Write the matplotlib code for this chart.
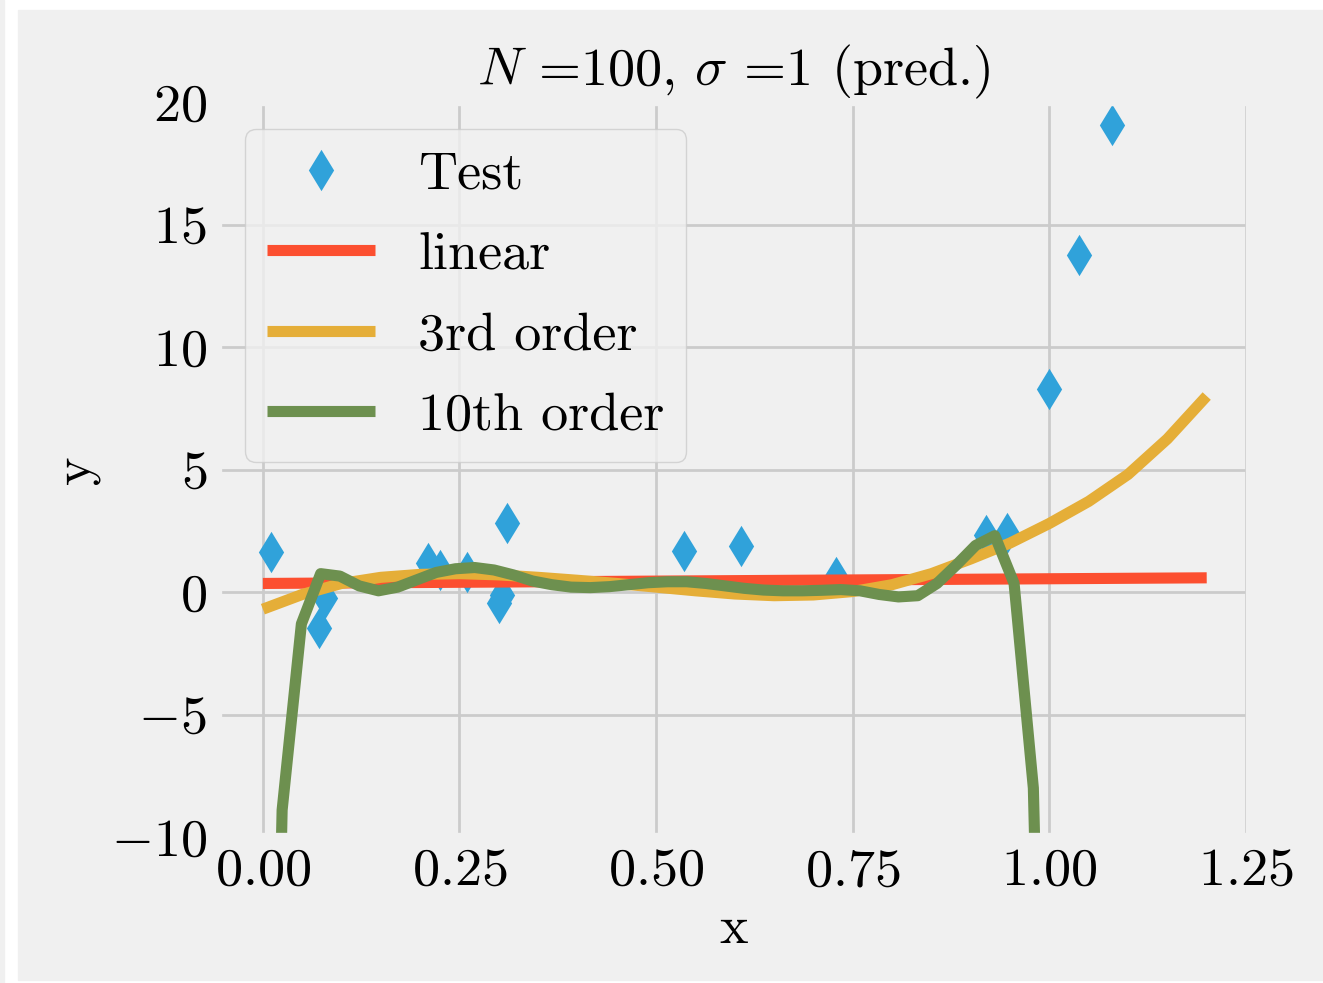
import numpy as np
import matplotlib
matplotlib.use("Agg")
import matplotlib.pyplot as plt
from matplotlib.patches import Rectangle

# test points
test_x = [0.010, 0.072, 0.079, 0.210, 0.225, 0.260, 0.300, 0.304, 0.311,
          0.535, 0.608, 0.729, 0.920, 0.946, 1.000, 1.038, 1.080]
test_y = [1.64, -1.47, -0.25, 1.20, 0.90, 0.83, -0.45, -0.12, 2.80,
          1.67, 1.89, 0.62, 2.33, 2.40, 8.30, 13.75, 19.05]

# linear fit
lin_x = [0.0, 1.2]
lin_y = [0.35, 0.58]

# 3rd order fit
cub_x = [0.00, 0.05, 0.10, 0.15, 0.20, 0.25, 0.30, 0.35, 0.40, 0.45, 0.50,
         0.55, 0.60, 0.65, 0.70, 0.75, 0.80, 0.85, 0.90, 0.95, 1.00, 1.05,
         1.10, 1.15, 1.20]
cub_y = [-0.70, -0.10, 0.35, 0.60, 0.72, 0.75, 0.70, 0.60, 0.48, 0.35, 0.20,
         0.05, -0.08, -0.15, -0.12, 0.02, 0.30, 0.75, 1.35, 2.00, 2.80, 3.70,
         4.80, 6.25, 8.00]

# 10th order fit, sampled on a 50-point grid over [0, 1.2]
grid_x = np.linspace(0, 1.2, 50)
ten_y = [-45.0, -8.9, -1.3, 0.75, 0.65, 0.25, 0.05, 0.20, 0.50, 0.80,
         0.95, 1.00, 0.90, 0.70, 0.45, 0.30, 0.20, 0.18, 0.22, 0.30,
         0.38, 0.42, 0.42, 0.35, 0.25, 0.15, 0.08, 0.05, 0.05, 0.07,
         0.10, 0.05, -0.10, -0.20, -0.15, 0.35, 1.10, 1.90, 2.30, 0.35,
         -8.0, -40.0]
ten_x = grid_x[:len(ten_y)]

fs = 19.5

plt.style.use("fivethirtyeight")
plt.rcParams["font.family"] = "serif"
plt.rcParams["font.serif"] = ["cmr10"]
plt.rcParams["mathtext.fontset"] = "cm"
plt.rcParams["axes.formatter.use_mathtext"] = True
plt.rcParams["font.size"] = fs

fig = plt.figure(figsize=(6.615, 4.915), dpi=200, facecolor="white")
# light panel behind the chart, with the white strip on the left
fig.patches.append(Rectangle((18 / 1323, 3 / 983), 1 - 18 / 1323, 1 - 13 / 983,
                             transform=fig.transFigure, color="#f0f0f0", zorder=-10))
fig.patches.append(Rectangle((0, 0), 4 / 1323, 1,
                             transform=fig.transFigure, color="#f0f0f0", zorder=-10))

ax = fig.add_axes([0.1648, 0.1485, 0.7800, 0.7477])
ax.plot(test_x, test_y, "d", color="#30a2da", ms=9, label="Test")
ax.plot(lin_x, lin_y, color="#fc4f30", lw=4, label="linear")
ax.plot(cub_x, cub_y, color="#e5ae38", lw=4, label="3rd order")
ax.plot(ten_x, ten_y, color="#6d904f", lw=4, label="10th order")

ax.set_xlim(-0.057, 1.255)
ax.set_ylim(-10, 20)
ax.set_xticks([0.0, 0.25, 0.5, 0.75, 1.0, 1.25])
ax.set_yticks([-10, -5, 0, 5, 10, 15, 20])
ax.tick_params(labelsize=fs, pad=4)
ax.set_xlabel("x", fontsize=fs)
ax.set_ylabel("y", fontsize=fs)
ax.set_title(r"$N$ =100, $\sigma$ =1 (pred.)", fontsize=fs)
ax.legend(loc="upper left", fontsize=fs, framealpha=0.8, labelspacing=0.6)

fig.savefig("out.png", dpi=200, facecolor="white")
